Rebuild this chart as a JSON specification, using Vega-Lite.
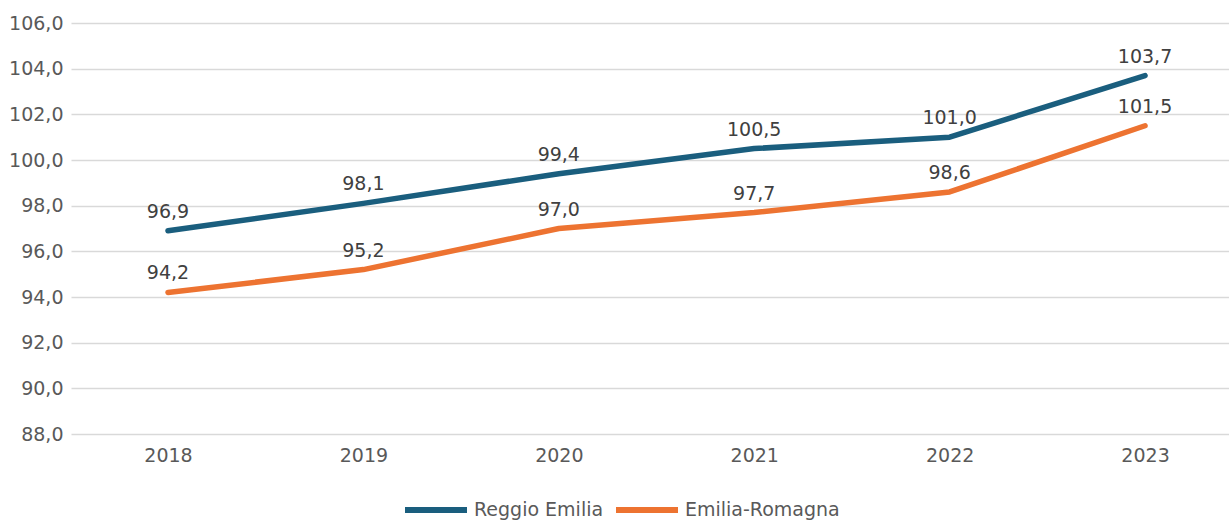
{
  "$schema": "https://vega.github.io/schema/vega-lite/v6.json",
  "width": 1158,
  "height": 411,
  "autosize": {"type": "none"},
  "padding": {"left": 71, "top": 23, "right": 0, "bottom": 87},
  "background": "white",
  "config": {
    "view": {"stroke": null},
    "font": "DejaVu Sans",
    "locale": {"number": {"decimal": ",", "thousands": ".", "grouping": [3], "currency": ["", " €"]}}
  },
  "data": {
    "values": [
      {"year": "2018", "serie": "Reggio Emilia", "value": 96.9},
      {"year": "2019", "serie": "Reggio Emilia", "value": 98.1},
      {"year": "2020", "serie": "Reggio Emilia", "value": 99.4},
      {"year": "2021", "serie": "Reggio Emilia", "value": 100.5},
      {"year": "2022", "serie": "Reggio Emilia", "value": 101.0},
      {"year": "2023", "serie": "Reggio Emilia", "value": 103.7},
      {"year": "2018", "serie": "Emilia-Romagna", "value": 94.2},
      {"year": "2019", "serie": "Emilia-Romagna", "value": 95.2},
      {"year": "2020", "serie": "Emilia-Romagna", "value": 97.0},
      {"year": "2021", "serie": "Emilia-Romagna", "value": 97.7},
      {"year": "2022", "serie": "Emilia-Romagna", "value": 98.6},
      {"year": "2023", "serie": "Emilia-Romagna", "value": 101.5}
    ]
  },
  "encoding": {
    "x": {
      "field": "year", "type": "ordinal",
      "scale": {"type": "point", "padding": 0.463, "align": 0.536},
      "axis": {"title": null, "labelAngle": 0, "domain": false, "ticks": false, "grid": false,
               "labelFont": "DejaVu Sans", "labelFontSize": 19, "labelColor": "#595959", "labelPadding": 12}
    },
    "y": {
      "field": "value", "type": "quantitative",
      "scale": {"domain": [88, 106], "nice": false, "zero": false},
      "axis": {"title": null, "values": [88, 90, 92, 94, 96, 98, 100, 102, 104, 106], "format": ".1f",
               "domain": false, "ticks": false, "grid": true, "gridColor": "#d9d9d9", "gridWidth": 1.5,
               "labelFont": "DejaVu Sans", "labelFontSize": 19, "labelColor": "#595959", "labelPadding": 8}
    },
    "color": {
      "field": "serie", "type": "nominal",
      "scale": {"domain": ["Reggio Emilia", "Emilia-Romagna"], "range": ["#1a5e7e", "#ed7331"]},
      "legend": {
        "title": null, "orient": "none", "direction": "horizontal", "legendX": 331, "legendY": 453,
        "symbolType": "stroke", "symbolSize": 3844, "symbolStrokeWidth": 6,
        "labelFont": "DejaVu Sans", "labelFontSize": 19, "labelColor": "#595959",
        "columnPadding": 0, "labelOffset": 4
      }
    }
  },
  "layer": [
    {"mark": {"type": "line", "strokeWidth": 5.5, "strokeCap": "round", "strokeJoin": "round"}},
    {
      "mark": {"type": "text", "dy": -19, "baseline": "middle", "align": "center", "fontSize": 19, "font": "DejaVu Sans", "color": "#404040"},
      "encoding": {
        "text": {"field": "value", "type": "quantitative", "format": ".1f"},
        "color": {"value": "#404040"}
      }
    }
  ]
}
